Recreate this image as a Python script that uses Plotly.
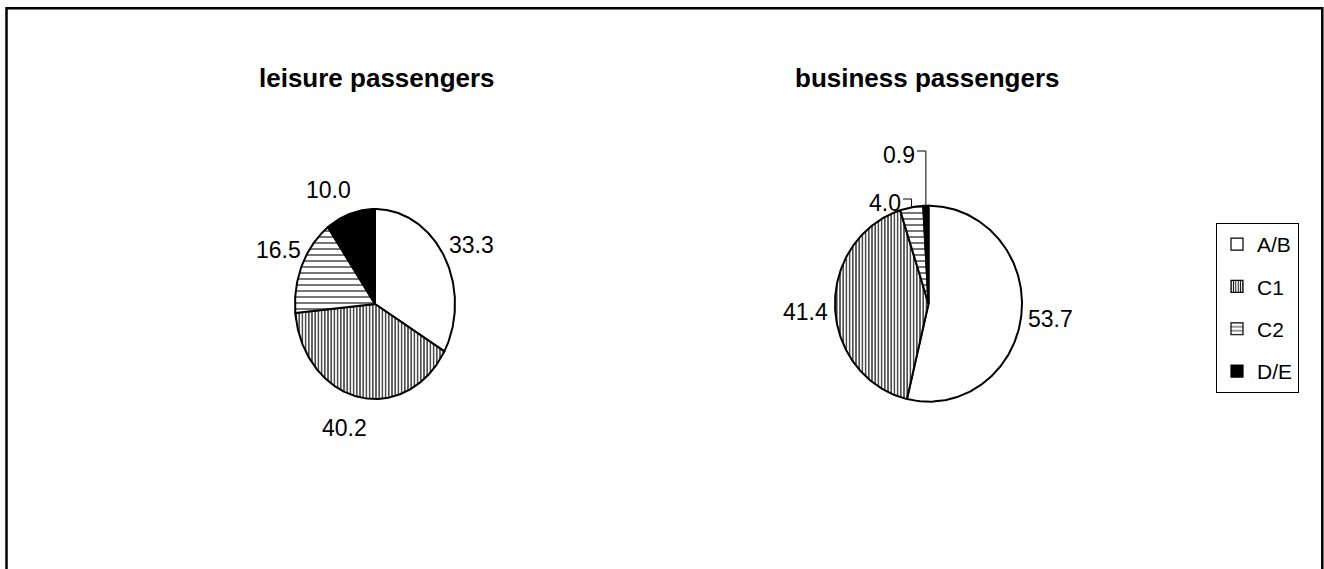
import numpy as np
import plotly.graph_objects as go

# ---- data -------------------------------------------------------------
categories = ["A/B", "C1", "C2", "D/E"]
leisure_values = [33.3, 40.2, 16.5, 10.0]
business_values = [53.7, 41.4, 4.0, 0.9]
chart_titles = ["leisure passengers", "business passengers"]

# ---- layout constants (pixel space) -----------------------------------
W, H = 1324, 569
FONT = "Liberation Sans, Arial, sans-serif"
LABEL_SIZE = 23

# each pie is drawn as an ellipse: centre x/y and radius x/y
pie_frames = [
    dict(cx=375.0, cy=304.0, rx=80.0, ry=95.0),
    dict(cx=928.5, cy=303.7, rx=93.5, ry=98.0),
]
title_pos = [(377, 78), (927, 78)]
label_pos = [
    [(471, 245), (344, 428), (278, 250), (328, 190)],
    [(1050, 319), (805, 312), (885, 203), (899, 155)],
]
# which labels get a leader line back to their slice
leader_on = [
    [False, False, False, False],
    [False, False, True, True],
]

slice_style = {
    "A/B": dict(color="white", pattern=None),
    "C1": dict(color="white", pattern=dict(shape="|", size=3.2, solidity=0.35)),
    "C2": dict(color="white", pattern=dict(shape="-", size=6, solidity=0.18)),
    "D/E": dict(color="black", pattern=None),
}


def wedge(frame, f0, f1):
    """Polygon for a pie slice running clockwise from 12 o'clock."""
    n = max(3, int(abs(f1 - f0) * 360))
    t = np.linspace(2 * np.pi * f0, 2 * np.pi * f1, n)
    xs = frame["cx"] + frame["rx"] * np.sin(t)
    ys = frame["cy"] - frame["ry"] * np.cos(t)
    x = np.concatenate([[frame["cx"]], xs, [frame["cx"]]])
    y = np.concatenate([[frame["cy"]], ys, [frame["cy"]]])
    return x, y


def edge_point(frame, f):
    t = 2 * np.pi * f
    return frame["cx"] + frame["rx"] * np.sin(t), frame["cy"] - frame["ry"] * np.cos(t)


fig = go.Figure()
annotations = []

for k, values in enumerate([leisure_values, business_values]):
    frame = pie_frames[k]
    total = float(sum(values))
    cum = 0.0
    for i, (cat, v) in enumerate(zip(categories, values)):
        f0 = cum / total
        f1 = (cum + v) / total
        cum += v
        x, y = wedge(frame, f0, f1)
        st = slice_style[cat]
        kw = dict(
            x=x, y=y, mode="lines", fill="toself",
            fillcolor=st["color"],
            line=dict(color="black", width=2),
            showlegend=False, hoverinfo="skip",
        )
        if st["pattern"] is not None:
            kw["fillpattern"] = dict(
                shape=st["pattern"]["shape"], size=st["pattern"]["size"],
                solidity=st["pattern"]["solidity"],
                fgcolor="black", bgcolor="white", fillmode="replace",
            )
        fig.add_trace(go.Scatter(**kw))

        lx, ly = label_pos[k][i]
        text = f"{v:.1f}"
        annotations.append(dict(
            x=lx, y=ly, xref="x", yref="y", text=text, showarrow=False,
            xanchor="center", yanchor="middle",
            font=dict(family=FONT, size=LABEL_SIZE, color="black"),
        ))
        if leader_on[k][i]:
            ex, ey = edge_point(frame, (f0 + f1) / 2)
            half_w = (0.556 * (len(text) - 1) + 0.278) * LABEL_SIZE / 2
            sx = lx + half_w + 2
            fig.add_trace(go.Scatter(
                x=[sx, ex, ex], y=[ly - 4, ly - 4, ey],
                mode="lines", line=dict(color="black", width=1),
                showlegend=False, hoverinfo="skip",
            ))

    tx, ty = title_pos[k]
    annotations.append(dict(
        x=tx, y=ty, xref="x", yref="y", text=f"<b>{chart_titles[k]}</b>",
        showarrow=False, xanchor="center", yanchor="middle",
        font=dict(family=FONT, size=26, color="black"),
    ))

# legend swatches (square symbols with the slice patterns)
legend_patterns = {
    "C1": dict(shape="|", size=3, solidity=0.4),
    "C2": dict(shape="-", size=5, solidity=0.2),
}
for cat in categories:
    st = slice_style[cat]
    marker = dict(color=st["color"], line=dict(color="black", width=1.2))
    if cat in legend_patterns:
        marker["pattern"] = dict(**legend_patterns[cat], fgcolor="black",
                                 bgcolor="white", fillmode="replace")
    fig.add_trace(go.Bar(x=[None], y=[None], name=cat, marker=marker,
                         legendgroup=cat, hoverinfo="skip"))

fig.update_layout(
    width=W, height=H,
    margin=dict(l=0, r=0, t=0, b=0),
    paper_bgcolor="white", plot_bgcolor="white",
    xaxis=dict(range=[0, W], visible=False, fixedrange=True),
    yaxis=dict(range=[H, 0], visible=False, fixedrange=True),
    annotations=annotations,
    shapes=[dict(type="rect", xref="x", yref="y", x0=6.5, y0=8.2, x1=1322.3, y1=H + 20,
                 line=dict(color="black", width=2.5))],
    showlegend=True,
    legend=dict(
        x=1216 / W, y=1 - 223 / H, xanchor="left", yanchor="top",
        bordercolor="black", borderwidth=1, bgcolor="white",
        font=dict(family=FONT, size=21, color="black"),
        tracegroupgap=12, itemwidth=30, traceorder="grouped",
    ),
    hovermode=False,
)

fig.write_html("out.html")
